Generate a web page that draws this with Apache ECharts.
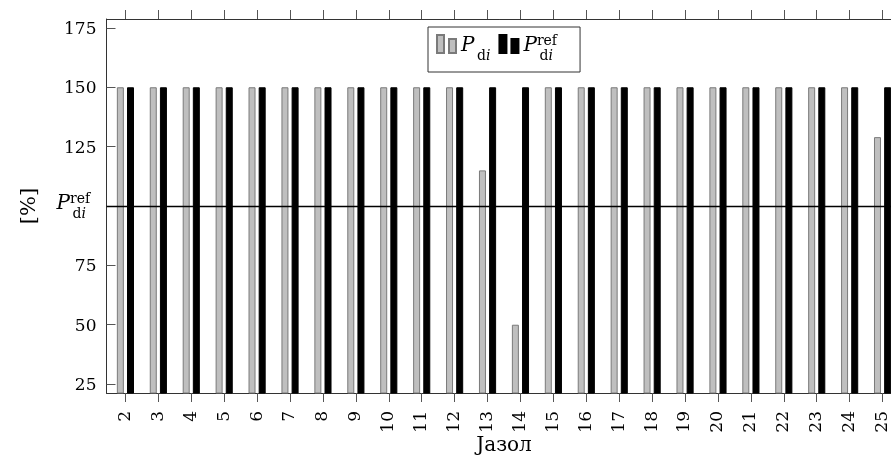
<!DOCTYPE html>
<html>
<head>
<meta charset="utf-8">
<script src="https://cdn.jsdelivr.net/npm/echarts@6/dist/echarts.min.js"></script>
<style>
  html, body { margin: 0; padding: 0; background: #fff; }
  #chart { width: 891px; height: 457px; }
</style>
</head>
<body>
<div id="chart"></div>
<script>
// ---- data ----
const categories = [2, 3, 4, 5, 6, 7, 8, 9, 10, 11, 12, 13, 14, 15, 16, 17, 18, 19, 20, 21, 22, 23, 24, 25];
const pdi = [150, 150, 150, 150, 150, 150, 150, 150, 150, 150, 150, 115, 50, 150, 150, 150, 150, 150, 150, 150, 150, 150, 150, 129];
const pdiRef = [150, 150, 150, 150, 150, 150, 150, 150, 150, 150, 150, 150, 150, 150, 150, 150, 150, 150, 150, 150, 150, 150, 150, 150];
const yTicks = [25, 50, 75, 100, 125, 150, 175];
const refLevel = 100;
const xName = 'Јазол';
const yName = '[%]';

// ---- styles ----
const SERIF = '"DejaVu Serif", "Liberation Serif", serif';
const rich = {
  top:  { width: 1, lineHeight: 8, fontSize: 8 },
  P:    { fontFamily: SERIF, fontStyle: 'italic', fontSize: 20, lineHeight: 16, color: '#000' },
  sup:  { fontFamily: SERIF, fontSize: 14, lineHeight: 4, padding: [0, 0, 10, 0], color: '#000' },
  gap:  { width: 16, lineHeight: 1, fontSize: 10 },
  sub:  { fontFamily: SERIF, fontSize: 14, lineHeight: 4, color: '#000' },
  subi: { fontFamily: SERIF, fontStyle: 'italic', fontSize: 14, lineHeight: 4, color: '#000' },
  num:  { fontFamily: SERIF, fontSize: 17, width: 40, align: 'right', padding: [3, 0, 0, 0], color: '#000' }
};
const labelPdi = '{top| }\n{P|P}\n{gap| }{sub|d}{subi|i}';
const labelPdiRefLegend = '{top| }\n{P|P}{sup|ref}\n{gap| }{sub|d}{subi|i}';
const labelPdiRef = '{P|P}{sup|ref}\n{gap| }{sub|d}{subi|i}';

const AXIS_COLOR = '#333';
const TICK_COLOR = '#555';
const xMin = 1.425, xMax = 25.575;
const yMin = 21.25, yMax = 178.75;

const barIcon = 'path://M0,0H7V18H0Z M12,4H19V18H12Z';

const chart = echarts.init(document.getElementById('chart'), null, { renderer: 'canvas' });
chart.setOption({
  animation: false,
  backgroundColor: '#fff',
  grid: { left: 106.5, top: 19, width: 795, bottom: 64, containLabel: false, outerBoundsMode: 'none' },
  legend: {
    left: 428, top: 27,
    padding: [3, 23, 9, 8],
    borderColor: '#333', borderWidth: 1,
    backgroundColor: '#fff',
    itemWidth: 19, itemHeight: 18, itemGap: 8,
    textStyle: { rich: rich },
    formatter: function (name) { return name === 'Pdi' ? labelPdi : labelPdiRefLegend; },
    data: [
      { name: 'Pdi', icon: barIcon },
      { name: 'PdiRef', icon: barIcon }
    ]
  },
  xAxis: [
    {
      type: 'value', position: 'bottom', min: xMin, max: xMax,
      name: xName, nameLocation: 'middle', nameGap: 43, nameMoveOverlap: false,
      nameTextStyle: { fontFamily: SERIF, fontSize: 20, color: '#000' },
      axisLine: { show: true, onZero: false, lineStyle: { color: AXIS_COLOR, width: 1 } },
      axisTick: { show: true, inside: false, length: 9, customValues: categories, lineStyle: { color: TICK_COLOR } },
      axisLabel: {
        customValues: categories, rotate: 90, margin: 18,
        fontFamily: SERIF, fontSize: 17, color: '#000',
        formatter: function (v) { return String(v); }
      },
      splitLine: { show: false }
    },
    {
      type: 'value', position: 'top', min: xMin, max: xMax,
      axisLine: { show: true, onZero: false, lineStyle: { color: AXIS_COLOR, width: 1 } },
      axisTick: { show: true, inside: false, length: 9, customValues: categories, lineStyle: { color: TICK_COLOR } },
      axisLabel: { show: false },
      splitLine: { show: false }
    }
  ],
  yAxis: [
    {
      type: 'value', position: 'left', min: yMin, max: yMax,
      name: yName, nameLocation: 'middle', nameRotate: 90, nameGap: 66, nameMoveOverlap: false,
      nameTextStyle: { fontFamily: SERIF, fontSize: 21, color: '#000' },
      axisLine: { show: true, onZero: false, lineStyle: { color: AXIS_COLOR, width: 1 } },
      axisTick: { show: true, inside: true, length: 9, customValues: yTicks, lineStyle: { color: TICK_COLOR } },
      axisLabel: {
        customValues: yTicks, align: 'left', margin: 50,
        rich: rich,
        formatter: function (v) { return v === refLevel ? labelPdiRef : '{num|' + v + '}'; }
      },
      splitLine: { show: false }
    },
    {
      type: 'value', position: 'right', min: yMin, max: yMax,
      axisLine: { show: true, onZero: false, lineStyle: { color: AXIS_COLOR, width: 1 } },
      axisTick: { show: true, inside: true, length: 9, customValues: yTicks, lineStyle: { color: TICK_COLOR } },
      axisLabel: { show: false },
      splitLine: { show: false }
    }
  ],
  series: [
    {
      name: 'Pdi', type: 'bar', xAxisIndex: 0, yAxisIndex: 0,
      barWidth: 7, barGap: '45%',
      itemStyle: { color: '#bfbfbf', borderColor: '#7a7a7a', borderWidth: 1 },
      data: categories.map(function (c, i) { return [c, pdi[i]]; }),
      markLine: {
        silent: true, symbol: 'none', label: { show: false },
        lineStyle: { color: '#000', width: 1.3, type: 'solid' },
        emphasis: { disabled: true },
        data: [{ yAxis: refLevel }]
      },
      z: 2
    },
    {
      name: 'PdiRef', type: 'bar', xAxisIndex: 0, yAxisIndex: 0,
      barWidth: 7, barGap: '45%',
      itemStyle: { color: '#000', borderColor: '#000', borderWidth: 1 },
      data: categories.map(function (c, i) { return [c, pdiRef[i]]; }),
      z: 2
    }
  ]
});
</script>
</body>
</html>
